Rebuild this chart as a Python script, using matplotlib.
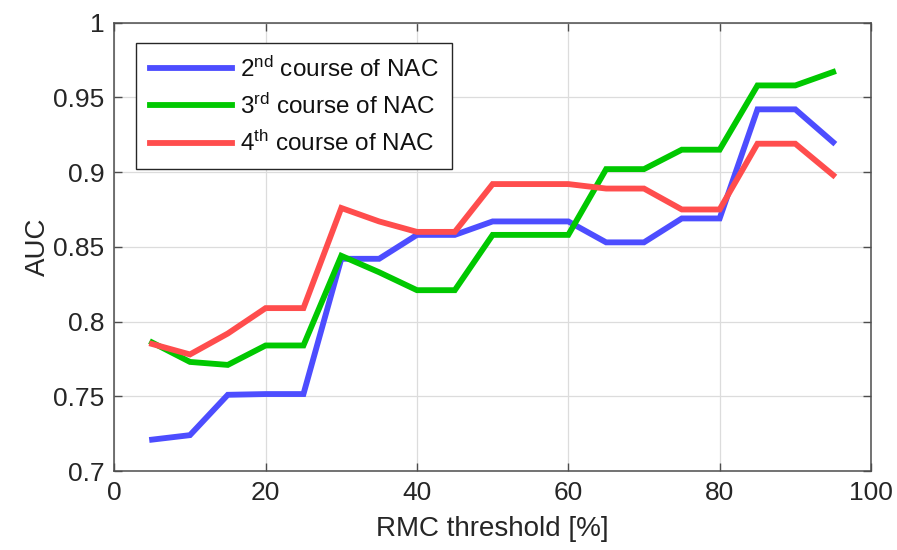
import matplotlib
matplotlib.use("Agg")
import matplotlib.pyplot as plt

plt.rcParams['font.family'] = ['Liberation Sans', 'DejaVu Sans']
plt.rcParams['mathtext.fontset'] = 'custom'
plt.rcParams['mathtext.rm'] = 'Liberation Sans'
plt.rcParams['mathtext.it'] = 'Liberation Sans:italic'
plt.rcParams['mathtext.bf'] = 'Liberation Sans:bold'

thresholds = [5, 10, 15, 20, 25, 30, 35, 40, 45, 50, 55, 60, 65, 70, 75, 80, 85, 90, 95]
auc_2nd = [0.721, 0.724, 0.751, 0.7515, 0.7515, 0.842, 0.842, 0.858, 0.858, 0.867,
           0.867, 0.867, 0.853, 0.853, 0.869, 0.869, 0.942, 0.942, 0.920]
auc_3rd = [0.786, 0.773, 0.771, 0.784, 0.784, 0.844, 0.833, 0.821, 0.821, 0.858,
           0.858, 0.858, 0.902, 0.902, 0.915, 0.915, 0.958, 0.958, 0.967]
auc_4th = [0.785, 0.778, 0.792, 0.809, 0.809, 0.876, 0.867, 0.860, 0.860, 0.892,
           0.892, 0.892, 0.889, 0.889, 0.875, 0.875, 0.919, 0.919, 0.898]
series_labels = [r'2$^{\mathrm{nd}}$ course of NAC',
                 r'3$^{\mathrm{rd}}$ course of NAC',
                 r'4$^{\mathrm{th}}$ course of NAC']
x_ticks = [0, 20, 40, 60, 80, 100]
y_ticks = [0.7, 0.75, 0.8, 0.85, 0.9, 0.95, 1.0]
y_tick_labels = ['0.7', '0.75', '0.8', '0.85', '0.9', '0.95', '1']

colors = ['#4d4dff', '#00c800', '#ff4d4d']
axis_color = '#262626'

fig = plt.figure(figsize=(8.97, 5.5), dpi=100)
ax = fig.add_axes([0.1274, 0.1436, 0.8436, 0.8152])

for vals, col, lab in zip([auc_2nd, auc_3rd, auc_4th], colors, series_labels):
    ax.plot(thresholds, vals, color=col, lw=4.2, label=lab, solid_joinstyle='miter')

ax.set_xlim(0, 100)
ax.set_ylim(0.7, 1.0)
ax.set_xticks(x_ticks)
ax.set_yticks(y_ticks)
ax.set_yticklabels(y_tick_labels)
ax.grid(True, color='#dcdcdc', lw=0.9)
ax.set_axisbelow(True)

for sp in ax.spines.values():
    sp.set_color('#4d4d4d')
    sp.set_linewidth(1.1)
ax.tick_params(direction='in', length=6, width=1.0, color='#4d4d4d',
               labelsize=19, labelcolor=axis_color, top=True, right=True, pad=7)

ax.set_xlabel('RMC threshold [%]', fontsize=20, color=axis_color, labelpad=8)
ax.set_ylabel('AUC', fontsize=20, color=axis_color, labelpad=2)

leg = ax.legend(loc='upper left', bbox_to_anchor=(0.029, 0.955), fontsize=17.5,
                frameon=True, fancybox=False, framealpha=1, edgecolor='#262626',
                handlelength=3.4, handletextpad=0.3, borderpad=0.55,
                labelspacing=0.5, borderaxespad=0)
leg.get_frame().set_linewidth(1.0)
for t in leg.get_texts():
    t.set_color('#111111')

fig.savefig('out.png', dpi=100)
